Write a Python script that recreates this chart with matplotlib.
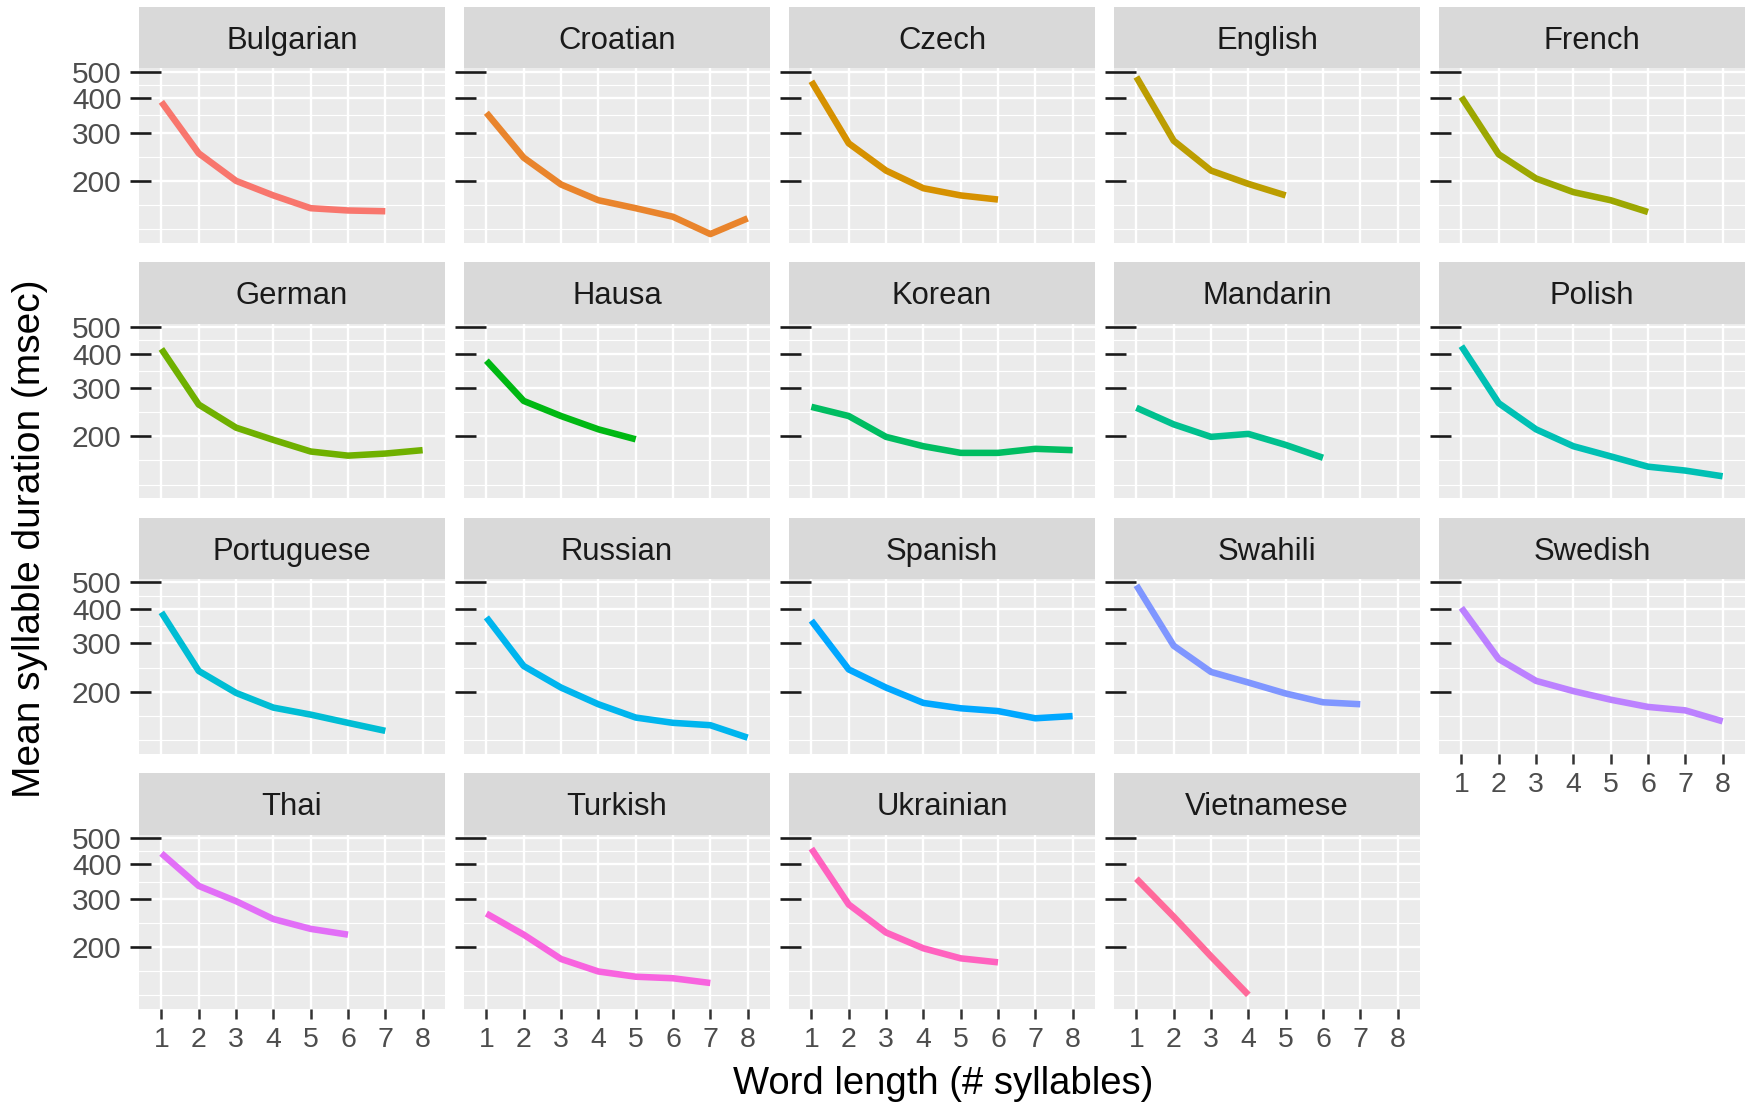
"""
Mean syllable duration by word length, one small panel per language
(ggplot-like facet grid drawn with matplotlib).
"""

import numpy as np
import matplotlib.pyplot as plt
import matplotlib.patches as mpatches

plt.rcParams["font.family"] = ["Liberation Sans", "DejaVu Sans"]

# ── Data (msec) ───────────────────────────────────────────────────────────────
languages = [
    "Bulgarian", "Croatian", "Czech", "English", "French",
    "German", "Hausa", "Korean", "Mandarin", "Polish",
    "Portuguese", "Russian", "Spanish", "Swahili", "Swedish",
    "Thai", "Turkish", "Ukrainian", "Vietnamese",
]
syllables = [1, 2, 3, 4, 5, 6, 7, 8]

bulgarian  = [388, 252, 200, 177, 159, 156, 155]
croatian   = [354, 243, 194, 170, 159, 148, 128, 146]
czech      = [461, 274, 218, 188, 177, 171]
english    = [478, 280, 218, 195, 177]
french     = [404, 250, 204, 182, 170, 154]
german     = [416, 261, 215, 194, 176, 170, 173, 178]
hausa      = [377, 269, 237, 212, 195]
korean     = [256, 237, 199, 184, 174, 174, 180, 178]
mandarin   = [254, 221, 199, 204, 186, 167]
polish     = [426, 264, 212, 184, 169, 155, 150, 143]
portuguese = [389, 238, 198, 175, 165, 154, 144]
russian    = [373, 248, 207, 180, 161, 154, 151, 136]
spanish    = [363, 241, 207, 182, 174, 170, 160, 163]
swahili    = [488, 294, 236, 216, 197, 183, 180]
swedish    = [404, 263, 219, 201, 187, 176, 171, 156]
thai       = [439, 334, 294, 253, 233, 222]
turkish    = [265, 222, 181, 163, 156, 154, 148]
ukrainian  = [457, 286, 226, 198, 182, 176]
vietnamese = [355, 258, 185, 134]

durations = [
    bulgarian, croatian, czech, english, french,
    german, hausa, korean, mandarin, polish,
    portuguese, russian, spanish, swahili, swedish,
    thai, turkish, ukrainian, vietnamese,
]

y_breaks = [200, 300, 400, 500]


# ── ggplot default hue palette (hcl, c=100, l=65) ─────────────────────────────
def hue_pal(n, c=100, l=65):
    xn, yn, zn = 95.047, 100.0, 108.883
    un = 4 * xn / (xn + 15 * yn + 3 * zn)
    vn = 9 * yn / (xn + 15 * yn + 3 * zn)
    cols = []
    for h in np.linspace(15, 375, n + 1)[:-1]:
        U, V = c * np.cos(np.radians(h)), c * np.sin(np.radians(h))
        Y = yn * ((l + 16) / 116) ** 3
        u, v = U / (13 * l) + un, V / (13 * l) + vn
        X = 9.0 * Y * u / (4 * v)
        Z = -X / 3 - 5 * Y + 3 * Y / v
        lin = [3.240479 * X - 1.537150 * Y - 0.498535 * Z,
               -0.969256 * X + 1.875992 * Y + 0.041556 * Z,
               0.055648 * X - 0.204043 * Y + 1.057311 * Z]
        rgb = []
        for ch in lin:
            ch /= yn
            ch = 1.055 * ch ** (1 / 2.4) - 0.055 if ch > 0.0031308 else 12.92 * ch
            rgb.append(min(max(ch, 0.0), 1.0))
        cols.append(tuple(rgb))
    return cols


colors = hue_pal(len(languages))

# minor breaks like ggplot: geometric midpoints + one extended break below
ext = y_breaks[0] ** 2 / y_breaks[1]
all_b = [ext] + y_breaks
y_minor = [ext] + [np.sqrt(a * b) for a, b in zip(all_b[:-1], all_b[1:])]

# ── Figure layout ─────────────────────────────────────────────────────────────
W, H = 1748, 1104
fig, axes = plt.subplots(4, 5, figsize=(W / 100, H / 100), dpi=100)
fig.patch.set_facecolor("white")
fig.subplots_adjust(left=139 / W, right=1745 / W, top=1 - 68.3 / H,
                    bottom=1 - 1009 / H, wspace=0.062, hspace=0.464)

nrow, ncol = 4, 5
strip_h = 61.6 / 174.4
n = len(languages)

for idx in range(nrow * ncol):
    r, c = divmod(idx, ncol)
    ax = axes[r, c]
    if idx >= n:
        ax.remove()
        continue

    vals = durations[idx]
    ax.set_facecolor("#EBEBEB")
    ax.plot(syllables[:len(vals)], vals, color=colors[idx], lw=4.7,
            solid_capstyle="butt", solid_joinstyle="round", zorder=3)

    ax.set_yscale("log")
    ax.set_ylim(119, 514)
    ax.set_xlim(0.4, 8.6)
    ax.set_yticks(y_breaks)
    ax.set_yticks(y_minor, minor=True)
    ax.yaxis.set_minor_formatter(plt.NullFormatter())
    ax.set_yticklabels([str(b) for b in y_breaks])
    ax.set_xticks(syllables)
    ax.set_xticks([], minor=True)

    ax.grid(which="major", color="white", lw=1.7, zorder=1)
    ax.grid(which="minor", axis="y", color="white", lw=0.85, zorder=1)
    ax.set_axisbelow(True)
    for s in ax.spines.values():
        s.set_visible(False)

    ax.tick_params(axis="y", which="both", length=0, pad=12.6,
                   labelsize=21.5, labelcolor="#4D4D4D", labelleft=(c == 0))

    show_x = (idx + ncol >= n)
    ax.tick_params(axis="x", which="major", direction="out",
                   length=7.2 if show_x else 0, width=1.8, color="#333333",
                   pad=6, labelsize=20.5, labelcolor="#4D4D4D",
                   labelbottom=show_x)

    # y tick marks straddling the panel edge (top one longer)
    for b in y_breaks:
        inner = 0.072 if b == y_breaks[-1] else 0.039
        ax.plot([-0.0294, inner], [b, b], transform=ax.get_yaxis_transform(),
                color="#1A1A1A", lw=1.9, solid_capstyle="butt",
                clip_on=False, zorder=4)

    # facet strip
    ax.add_patch(mpatches.Rectangle((0, 1.0), 1, strip_h, transform=ax.transAxes,
                                    facecolor="#D9D9D9", edgecolor="none",
                                    clip_on=False, zorder=0))
    ax.text(0.5, 1.112, languages[idx], transform=ax.transAxes, ha="center",
            va="baseline", fontsize=22.3, color="#1A1A1A")

fig.text(943 / W, 1 - 1094 / H, "Word length (# syllables)", ha="center",
         va="baseline", fontsize=27.5, color="black")
fig.text(30 / W, 1 - 539 / H, "Mean syllable duration (msec)", ha="center",
         va="center", rotation=90, fontsize=28, color="black")

plt.savefig("out.png", dpi=100, facecolor="white")
plt.close()
